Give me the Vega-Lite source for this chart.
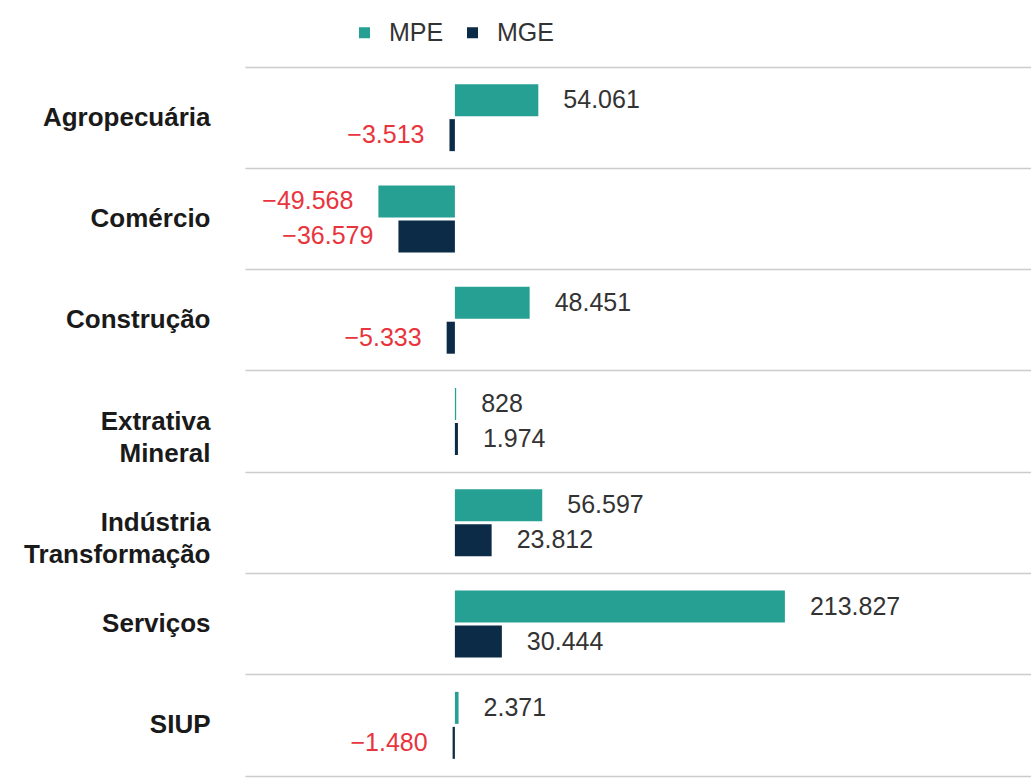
{
  "$schema": "https://vega.github.io/schema/vega-lite/v6.json",
  "width": 786,
  "height": 709,
  "autosize": {"type": "none"},
  "padding": {"left": 245, "top": 67, "right": 0, "bottom": 4},
  "background": "white",
  "config": {
    "view": {"stroke": null},
    "font": "Liberation Sans"
  },
  "data": {
    "values": [
      {"setor": "Agropecuária", "porte": "MPE", "saldo": 54061},
      {"setor": "Agropecuária", "porte": "MGE", "saldo": -3513},
      {"setor": "Comércio", "porte": "MPE", "saldo": -49568},
      {"setor": "Comércio", "porte": "MGE", "saldo": -36579},
      {"setor": "Construção", "porte": "MPE", "saldo": 48451},
      {"setor": "Construção", "porte": "MGE", "saldo": -5333},
      {"setor": "Extrativa Mineral", "porte": "MPE", "saldo": 828},
      {"setor": "Extrativa Mineral", "porte": "MGE", "saldo": 1974},
      {"setor": "Indústria Transformação", "porte": "MPE", "saldo": 56597},
      {"setor": "Indústria Transformação", "porte": "MGE", "saldo": 23812},
      {"setor": "Serviços", "porte": "MPE", "saldo": 213827},
      {"setor": "Serviços", "porte": "MGE", "saldo": 30444},
      {"setor": "SIUP", "porte": "MPE", "saldo": 2371},
      {"setor": "SIUP", "porte": "MGE", "saldo": -1480}
    ]
  },
  "transform": [
    {"calculate": "replace(format(datum.saldo, ',.0f'), regexp(',', 'g'), '.')", "as": "rotulo"}
  ],
  "encoding": {
    "y": {
      "field": "setor",
      "type": "nominal",
      "sort": null,
      "scale": {"padding": 0},
      "axis": {
        "title": null,
        "domain": false,
        "ticks": false,
        "grid": true,
        "bandPosition": 0,
        "gridColor": "#cccccc",
        "gridWidth": 1.5,
        "labelFont": "Liberation Sans",
        "labelFontWeight": "bold",
        "labelFontSize": 26,
        "labelColor": "#1a1a1a",
        "labelPadding": 35,
        "labelLimit": 0,
        "labelLineHeight": 32,
        "labelExpr": "isString(datum.value) && indexof(datum.value, ' ') > 0 ? split(datum.value, ' ') : datum.label"
      }
    },
    "yOffset": {
      "field": "porte",
      "type": "nominal",
      "sort": ["MPE", "MGE"],
      "scale": {"paddingInner": 0.086, "paddingOuter": 0.49}
    },
    "x": {
      "field": "saldo",
      "type": "quantitative",
      "scale": {"domain": [-136000, 373300], "nice": false},
      "axis": {
        "title": null,
        "domain": true,
        "domainColor": "#cccccc",
        "domainWidth": 1.5,
        "ticks": false,
        "labels": false,
        "grid": false
      }
    }
  },
  "layer": [
    {
      "mark": {"type": "bar"},
      "encoding": {
        "color": {
          "field": "porte",
          "type": "nominal",
          "scale": {"domain": ["MPE", "MGE"], "range": ["#26a092", "#0c2b46"]},
          "legend": {
            "orient": "none",
            "legendX": 107,
            "legendY": -47,
            "direction": "horizontal",
            "title": null,
            "symbolType": "square",
            "symbolSize": 121,
            "labelFontSize": 25,
            "labelColor": "#333333",
            "labelOffset": 12,
            "columnPadding": 16
          }
        }
      }
    },
    {
      "transform": [{"filter": "datum.saldo >= 0"}],
      "mark": {"type": "text", "align": "left", "baseline": "middle", "dx": 25, "fontSize": 25, "color": "#333333"},
      "encoding": {"text": {"field": "rotulo", "type": "nominal"}}
    },
    {
      "transform": [{"filter": "datum.saldo < 0"}],
      "mark": {"type": "text", "align": "right", "baseline": "middle", "dx": -25, "fontSize": 25, "color": "#e8343c"},
      "encoding": {"text": {"field": "rotulo", "type": "nominal"}}
    }
  ]
}
